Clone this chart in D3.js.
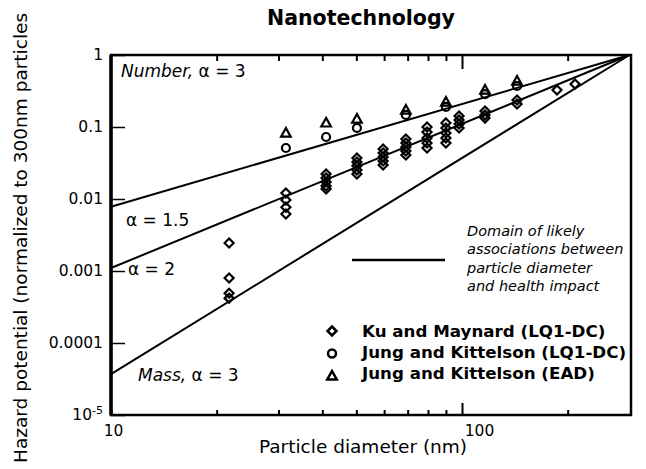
<!DOCTYPE html>
<html>
<head>
<meta charset="utf-8">
<script src="https://cdn.jsdelivr.net/npm/d3@7"></script>
<style>
  body { margin: 0; background: #fff; }
  svg { display: block; font-family: "DejaVu Sans", sans-serif; }
</style>
</head>
<body>
<svg id="chart" width="646" height="469"></svg>
<script>
// values: [diameter nm, hazard potential]
var kuMaynard = [
    [21.7, 0.00245], [21.7, 0.0008], [21.7, 0.00049], [21.7, 0.00042],
    [31.5, 0.0121], [31.5, 0.0097], [31.5, 0.0077], [31.5, 0.0062],
    [41.0, 0.0222], [41.0, 0.0196], [41.0, 0.0172], [41.0, 0.0152], [41.0, 0.0138],
    [50.2, 0.0371], [50.2, 0.0327], [50.2, 0.029], [50.2, 0.0253], [50.2, 0.0222],
    [59.6, 0.0495], [59.6, 0.0435], [59.6, 0.0383], [59.6, 0.0337], [59.6, 0.0297],
    [69.2, 0.0681], [69.2, 0.06], [69.2, 0.0527], [69.2, 0.0464], [69.2, 0.0408],
    [79.5, 0.1], [79.5, 0.085], [79.5, 0.0704], [79.5, 0.06], [79.5, 0.0511],
    [90.0, 0.114], [90.0, 0.097], [90.0, 0.0825], [90.0, 0.0704], [90.0, 0.06],
    [98.1, 0.142], [98.1, 0.125], [98.1, 0.11], [98.1, 0.097],
    [116.3, 0.167], [116.3, 0.147], [116.3, 0.133],
    [143.5, 0.237], [143.5, 0.209],
    [186.5, 0.327], [209.9, 0.396]
];
var jungLQ1 = [
    [31.5, 0.0511], [41.0, 0.0726], [50.2, 0.097], [69.2, 0.147],
    [90.0, 0.19], [116.3, 0.287], [143.5, 0.371]
];
var jungEAD = [
    [31.5, 0.0825], [41.0, 0.114], [50.2, 0.129], [69.2, 0.172],
    [90.0, 0.222], [116.3, 0.327], [143.5, 0.435]
];

// the three guide lines, all meeting at 300 nm
var numberLine = [[10, 0.0078], [300, 1]];
var alpha2Line = [[10, 0.0011], [300, 1]];
var massLine = [[10, 0.000037], [300, 1]];

var xTicks = [10, 20, 30, 40, 50, 60, 70, 80, 90, 100, 200];
var xTickLabels = {10: "10", 100: "100"};
var yTicks = [1, 0.1, 0.01, 0.001, 0.0001, 0.00001];
var yTickLabels = ["1", "0.1", "0.01", "0.001", "0.0001", "10-5"];

var legendNames = ["Ku and Maynard (LQ1-DC)", "Jung and Kittelson (LQ1-DC)", "Jung and Kittelson (EAD)"];
var noteLines = ["Domain of likely", "associations between", "particle diameter", "and health impact"];

var svg = d3.select("#chart");
var mLeft = 111, mRight = 631, mTop = 55, mBottom = 415;

var xs = d3.scaleLog().domain([10, 10 * Math.pow(10, (mRight - mLeft) / 351)]).range([mLeft, mRight]);
var ys = d3.scaleLog().domain([0.00001, 1]).range([mBottom, mTop]);

var markers = {
    diamond: "M0,-4.5L4.5,0L0,4.5L-4.5,0Z",
    circle: "M4,0A4,4 0 1,1 -4,0A4,4 0 1,1 4,0Z",
    triangle: "M0,-5L4.8,3.6L-4.8,3.6Z"
};

// title
svg.append("text")
    .attr("x", 361).attr("y", 25)
    .attr("text-anchor", "middle")
    .style("font-weight", "bold").style("font-size", "20.5px")
    .text("Nanotechnology");

// axes
var yAxis = d3.axisLeft(ys).tickValues(yTicks).tickSize(-14).tickPadding(8)
    .tickFormat(function(d, i) { return yTickLabels[i]; });
var gy = svg.append("g").attr("transform", "translate(" + mLeft + ",0)").call(yAxis);
gy.select(".domain").remove();
gy.selectAll("text").style("font-size", "15.5px").style("font-family", "DejaVu Sans").attr("fill", "#000")
    .each(function(d) {
        if (d === 0.00001) {
            var t = d3.select(this).text("");
            t.append("tspan").text("10");
            t.append("tspan").attr("dy", -6).style("font-size", "11px").text("-5");
        }
    });
gy.selectAll("line").attr("stroke", "#000").attr("stroke-width", 1.5);

var xAxis = d3.axisBottom(xs).tickValues(xTicks).tickSize(-5).tickPadding(10)
    .tickFormat(function(d) { return xTickLabels[d] || ""; });
var gx = svg.append("g").attr("transform", "translate(0," + mBottom + ")").call(xAxis);
gx.select(".domain").remove();
gx.selectAll("line").attr("stroke", "#000").attr("stroke-width", 2)
    .attr("y2", function(d) { return d === 100 ? -12 : -5; });
gx.selectAll("text").style("font-size", "15.5px").style("font-family", "DejaVu Sans").attr("fill", "#000")
    .attr("dx", function(d) { return d === 100 ? 17 : 2; });

var xTop = d3.axisTop(xs).tickValues(xTicks.slice(1)).tickSize(-6).tickFormat("");
var gt = svg.append("g").attr("transform", "translate(0," + mTop + ")").call(xTop);
gt.select(".domain").remove();
gt.selectAll("line").attr("stroke", "#000").attr("stroke-width", 2)
    .attr("y2", function(d) { return d === 100 ? 14 : 6; });

// frame
svg.append("path")
    .attr("d", "M" + mLeft + "," + mTop + "H" + mRight + "V" + mBottom + "H" + mLeft + "Z")
    .attr("fill", "none").attr("stroke", "#000").attr("stroke-width", 2.5);
svg.append("line")
    .attr("x1", mLeft).attr("x2", mLeft).attr("y1", mTop).attr("y2", mBottom)
    .attr("stroke", "#000").attr("stroke-width", 3.5);

// guide lines
var line = d3.line().x(function(d) { return xs(d[0]); }).y(function(d) { return ys(d[1]); });
[numberLine, alpha2Line, massLine].forEach(function(l) {
    svg.append("path").attr("d", line(l))
        .attr("fill", "none").attr("stroke", "#000").attr("stroke-width", 2);
});

// data points (open outlines, so stacked ones run together like the scan)
function drawPoints(data, shape) {
    svg.append("g").selectAll("path")
        .data(data).enter()
        .append("path")
        .attr("d", markers[shape])
        .attr("transform", function(d) { return "translate(" + xs(d[0]) + "," + ys(d[1]) + ")"; })
        .attr("fill", "none").attr("stroke", "#000").attr("stroke-width", 2.2);
}
drawPoints(kuMaynard, "diamond");
drawPoints(jungLQ1, "circle");
drawPoints(jungEAD, "triangle");

// line labels
var lab = svg.append("g").style("font-size", "17px");
var t1 = lab.append("text").attr("x", 121).attr("y", 77);
t1.append("tspan").style("font-style", "italic").text("Number,");
t1.append("tspan").text(" \u03b1 = 3");
lab.append("text").attr("x", 126).attr("y", 226).text("\u03b1 = 1.5");
lab.append("text").attr("x", 128).attr("y", 275).text("\u03b1 = 2");
var t4 = lab.append("text").attr("x", 138).attr("y", 381);
t4.append("tspan").style("font-style", "italic").text("Mass,");
t4.append("tspan").text(" \u03b1 = 3");

// annotation
svg.append("line")
    .attr("x1", 352).attr("x2", 445).attr("y1", 260).attr("y2", 260)
    .attr("stroke", "#000").attr("stroke-width", 2.5);
svg.append("g").selectAll("text")
    .data(noteLines).enter()
    .append("text")
    .attr("x", 467)
    .attr("y", function(d, i) { return 236 + i * 18.3; })
    .style("font-style", "italic").style("font-size", "14.5px")
    .text(function(d) { return d; });

// legend
var shapes = ["diamond", "circle", "triangle"];
var leg = svg.append("g").selectAll("g")
    .data(legendNames).enter()
    .append("g")
    .attr("transform", function(d, i) { return "translate(0," + (331 + i * 21) + ")"; });
leg.append("path")
    .attr("d", function(d, i) { return markers[shapes[i]]; })
    .attr("transform", function(d, i) { return "translate(332," + (i * 1.5) + ")"; })
    .attr("fill", "#fff").attr("stroke", "#000").attr("stroke-width", 2.5);
leg.append("text")
    .attr("x", 362).attr("y", 6)
    .style("font-weight", "bold").style("font-size", "16.7px")
    .text(function(d) { return d; });

// axis titles
svg.append("text")
    .attr("x", 363).attr("y", 453)
    .attr("text-anchor", "middle")
    .style("font-size", "18.5px")
    .text("Particle diameter (nm)");
svg.append("text")
    .attr("transform", "translate(27,463) rotate(-90)")
    .style("font-size", "18.5px")
    .text("Hazard potential (normalized to 300nm particles");
</script>
</body>
</html>
